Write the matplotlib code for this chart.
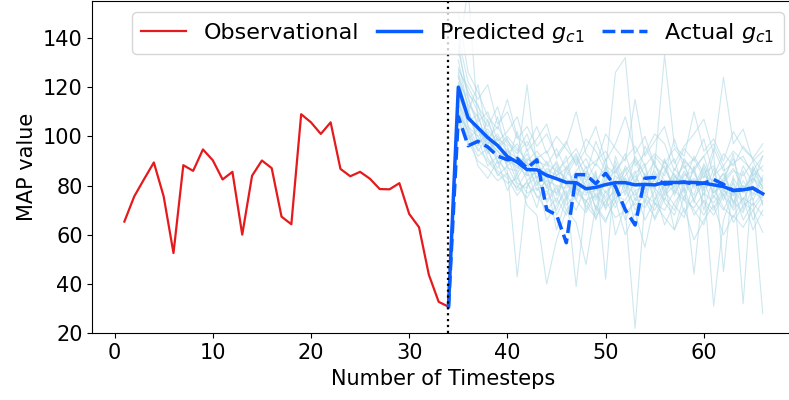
import matplotlib
matplotlib.use('Agg')
import matplotlib.pyplot as plt
import numpy as np

# observed MAP values, timesteps 1..34
obs_t = np.arange(1, 35)
obs_map = [65.4, 75.6, 82.6, 89.4, 75.6, 52.6, 88.3, 86.0, 94.7, 90.3,
           82.5, 85.6, 60.1, 84.0, 90.2, 87.1, 67.4, 64.3, 109.0, 105.7,
           101.0, 105.7, 86.8, 83.8, 85.6, 82.8, 78.6, 78.5, 81.0, 68.5,
           63.1, 43.8, 32.8, 30.8]

# forecast window, timesteps 34..66
fc_t = np.arange(34, 67)
pred_gc1 = [30.8, 120.0, 107.5, 103.5, 99.5, 96.3, 91.8, 89.5, 86.5, 86.4,
            84.2, 82.8, 81.3, 81.2, 78.7, 79.3, 80.4, 81.2, 81.2, 80.3,
            80.5, 80.3, 81.3, 81.3, 81.3, 81.3, 81.0, 80.3, 79.6, 78.0,
            78.3, 79.0, 76.7]
actual_gc1 = [30.8, 108.0, 96.2, 98.0, 95.7, 92.0, 90.5, 91.0, 87.1, 90.5,
              70.2, 68.1, 56.8, 84.5, 84.4, 80.8, 85.0, 79.6, 70.2, 64.0,
              83.0, 83.3, 80.6, 81.0, 81.5, 80.5, 81.0, 82.5, 80.5, 78.0,
              78.5, 79.0, 76.5]

# sampled trajectories (light blue), timesteps 35..66
samp_t = np.arange(35, 67)
samples = [
    [128, 118, 110, 104, 112, 98, 94, 101, 90, 88, 95, 86, 92, 84, 98, 88, 85, 93, 80, 96, 88, 84, 99, 87, 91, 83, 95, 86, 89, 92, 84, 88],
    [112, 96, 99, 88, 92, 84, 79, 86, 75, 78, 70, 81, 74, 69, 77, 72, 80, 66, 75, 71, 78, 64, 73, 79, 68, 74, 70, 77, 65, 72, 75, 28],
    [140, 122, 115, 121, 105, 110, 99, 104, 96, 101, 92, 98, 88, 95, 104, 90, 97, 108, 93, 100, 88, 133, 96, 92, 110, 94, 99, 90, 102, 95, 91, 97],
    [105, 100, 92, 95, 84, 88, 80, 75, 82, 66, 72, 78, 39, 74, 68, 85, 60, 72, 78, 66, 74, 81, 62, 76, 70, 64, 79, 71, 67, 75, 62, 70],
    [124, 113, 108, 97, 101, 93, 97, 88, 92, 85, 89, 80, 86, 91, 82, 87, 79, 84, 90, 81, 86, 78, 83, 88, 80, 85, 77, 82, 87, 79, 83, 80],
    [118, 104, 96, 102, 90, 86, 43, 80, 84, 73, 79, 70, 76, 82, 71, 65, 77, 83, 70, 79, 85, 73, 68, 80, 44, 82, 71, 78, 74, 69, 80, 73],
    [133, 160, 106, 110, 98, 102, 108, 94, 99, 105, 91, 97, 110, 93, 88, 101, 95, 90, 115, 92, 98, 104, 89, 96, 101, 107, 93, 124, 97, 103, 90, 94],
    [110, 102, 88, 83, 90, 78, 85, 72, 68, 40, 58, 70, 65, 48, 72, 66, 74, 60, 69, 55, 73, 67, 62, 71, 58, 66, 72, 60, 68, 63, 70, 61],
    [150, 126, 118, 108, 103, 115, 100, 96, 104, 93, 100, 95, 89, 99, 94, 86, 126, 132, 88, 93, 101, 97, 86, 95, 90, 99, 84, 93, 88, 96, 91, 86],
    [116, 109, 100, 94, 87, 95, 83, 90, 78, 82, 62, 75, 84, 70, 80, 74, 67, 70, 22, 74, 67, 77, 83, 69, 75, 81, 31, 66, 78, 73, 70, 76],
    [122, 110, 121, 99, 94, 89, 102, 84, 90, 79, 84, 92, 74, 86, 79, 91, 73, 88, 82, 76, 92, 87, 79, 91, 85, 78, 93, 45, 84, 32, 87, 82],
    [137, 115, 104, 96, 108, 92, 87, 93, 83, 90, 76, 84, 91, 78, 86, 42, 90, 78, 85, 89, 74, 86, 91, 77, 87, 92, 79, 85, 76, 88, 81, 92],
    [126, 112, 97, 107, 95, 99, 90, 121, 87, 80, 86, 83, 78, 88, 75, 83, 88, 76, 92, 84, 78, 91, 76, 85, 80, 88, 75, 83, 91, 78, 86, 79],
    [114, 99, 103, 91, 86, 83, 76, 82, 71, 86, 68, 76, 70, 80, 66, 78, 71, 82, 64, 75, 70, 78, 72, 67, 82, 73, 68, 76, 71, 80, 66, 74],
    [119, 108, 102, 98, 94, 90, 88, 84, 85, 82, 80, 79, 83, 77, 78, 81, 79, 83, 78, 80, 82, 79, 84, 80, 83, 79, 81, 78, 76, 80, 77, 75],
    [125, 104, 100, 103, 97, 88, 92, 89, 80, 87, 84, 76, 85, 80, 74, 82, 86, 79, 84, 77, 83, 88, 78, 86, 79, 84, 82, 76, 81, 74, 83, 78],
    [113, 106, 109, 95, 99, 96, 85, 91, 88, 79, 77, 86, 80, 73, 84, 77, 82, 87, 74, 85, 79, 74, 87, 82, 76, 89, 80, 85, 73, 82, 76, 84],
    [131, 111, 97, 101, 92, 94, 91, 82, 86, 83, 90, 81, 77, 84, 81, 75, 84, 80, 86, 73, 88, 82, 77, 84, 86, 76, 87, 74, 83, 77, 85, 72],
    [121, 116, 105, 93, 100, 87, 86, 95, 82, 76, 88, 74, 82, 85, 70, 88, 76, 74, 82, 88, 72, 80, 85, 74, 88, 70, 84, 88, 72, 86, 74, 83],
    [109, 103, 94, 100, 89, 92, 81, 79, 89, 84, 73, 88, 79, 76, 85, 70, 92, 81, 76, 83, 90, 76, 80, 90, 73, 87, 77, 81, 93, 70, 88, 79],
    [127, 120, 112, 106, 96, 100, 95, 90, 94, 89, 86, 90, 95, 87, 90, 94, 86, 91, 96, 88, 93, 89, 95, 90, 86, 92, 97, 88, 94, 90, 86, 92],
    [116, 101, 95, 90, 85, 81, 83, 77, 79, 74, 80, 72, 77, 74, 76, 71, 75, 78, 72, 76, 73, 70, 78, 74, 71, 77, 73, 79, 70, 75, 72, 77],
    [135, 117, 113, 99, 104, 97, 93, 98, 91, 94, 84, 87, 93, 82, 89, 84, 80, 86, 91, 84, 79, 90, 84, 81, 92, 85, 88, 81, 86, 84, 90, 81],
    [107, 98, 90, 87, 82, 85, 78, 81, 76, 70, 75, 68, 79, 72, 67, 74, 78, 69, 73, 80, 66, 75, 70, 82, 74, 68, 76, 70, 79, 66, 73, 68],
]

split_t = 34

fig = plt.figure(figsize=(7.89, 4.0), dpi=100)
ax = fig.add_axes([0.1172, 0.1667, 0.890, 0.8308])

for s in samples:
    ax.plot(samp_t, s, color='lightblue', lw=0.8, alpha=0.6, zorder=1)

ax.plot(obs_t, obs_map, color='#e41a1c', lw=1.6, label='Observational', zorder=3)
ax.plot(fc_t, pred_gc1, color='#0a5cff', lw=2.5, label='Predicted $g_{c1}$', zorder=4)
ax.plot(fc_t, actual_gc1, color='#0a5cff', lw=2.5, ls='--', label='Actual $g_{c1}$', zorder=4)
ax.axvline(split_t, color='black', ls=':', lw=1.6, zorder=5)

ax.set_xlim(-2.25, 69.25)
ax.set_ylim(20, 155)
ax.set_xticks([0, 10, 20, 30, 40, 50, 60])
ax.set_yticks([20, 40, 60, 80, 100, 120, 140])
ax.tick_params(labelsize=15)
ax.set_xlabel('Number of Timesteps', fontsize=15)
ax.set_ylabel('MAP value', fontsize=15)
ax.legend(loc='upper right', ncol=3, fontsize=16, columnspacing=0.8)

fig.savefig('out.png', dpi=100)
